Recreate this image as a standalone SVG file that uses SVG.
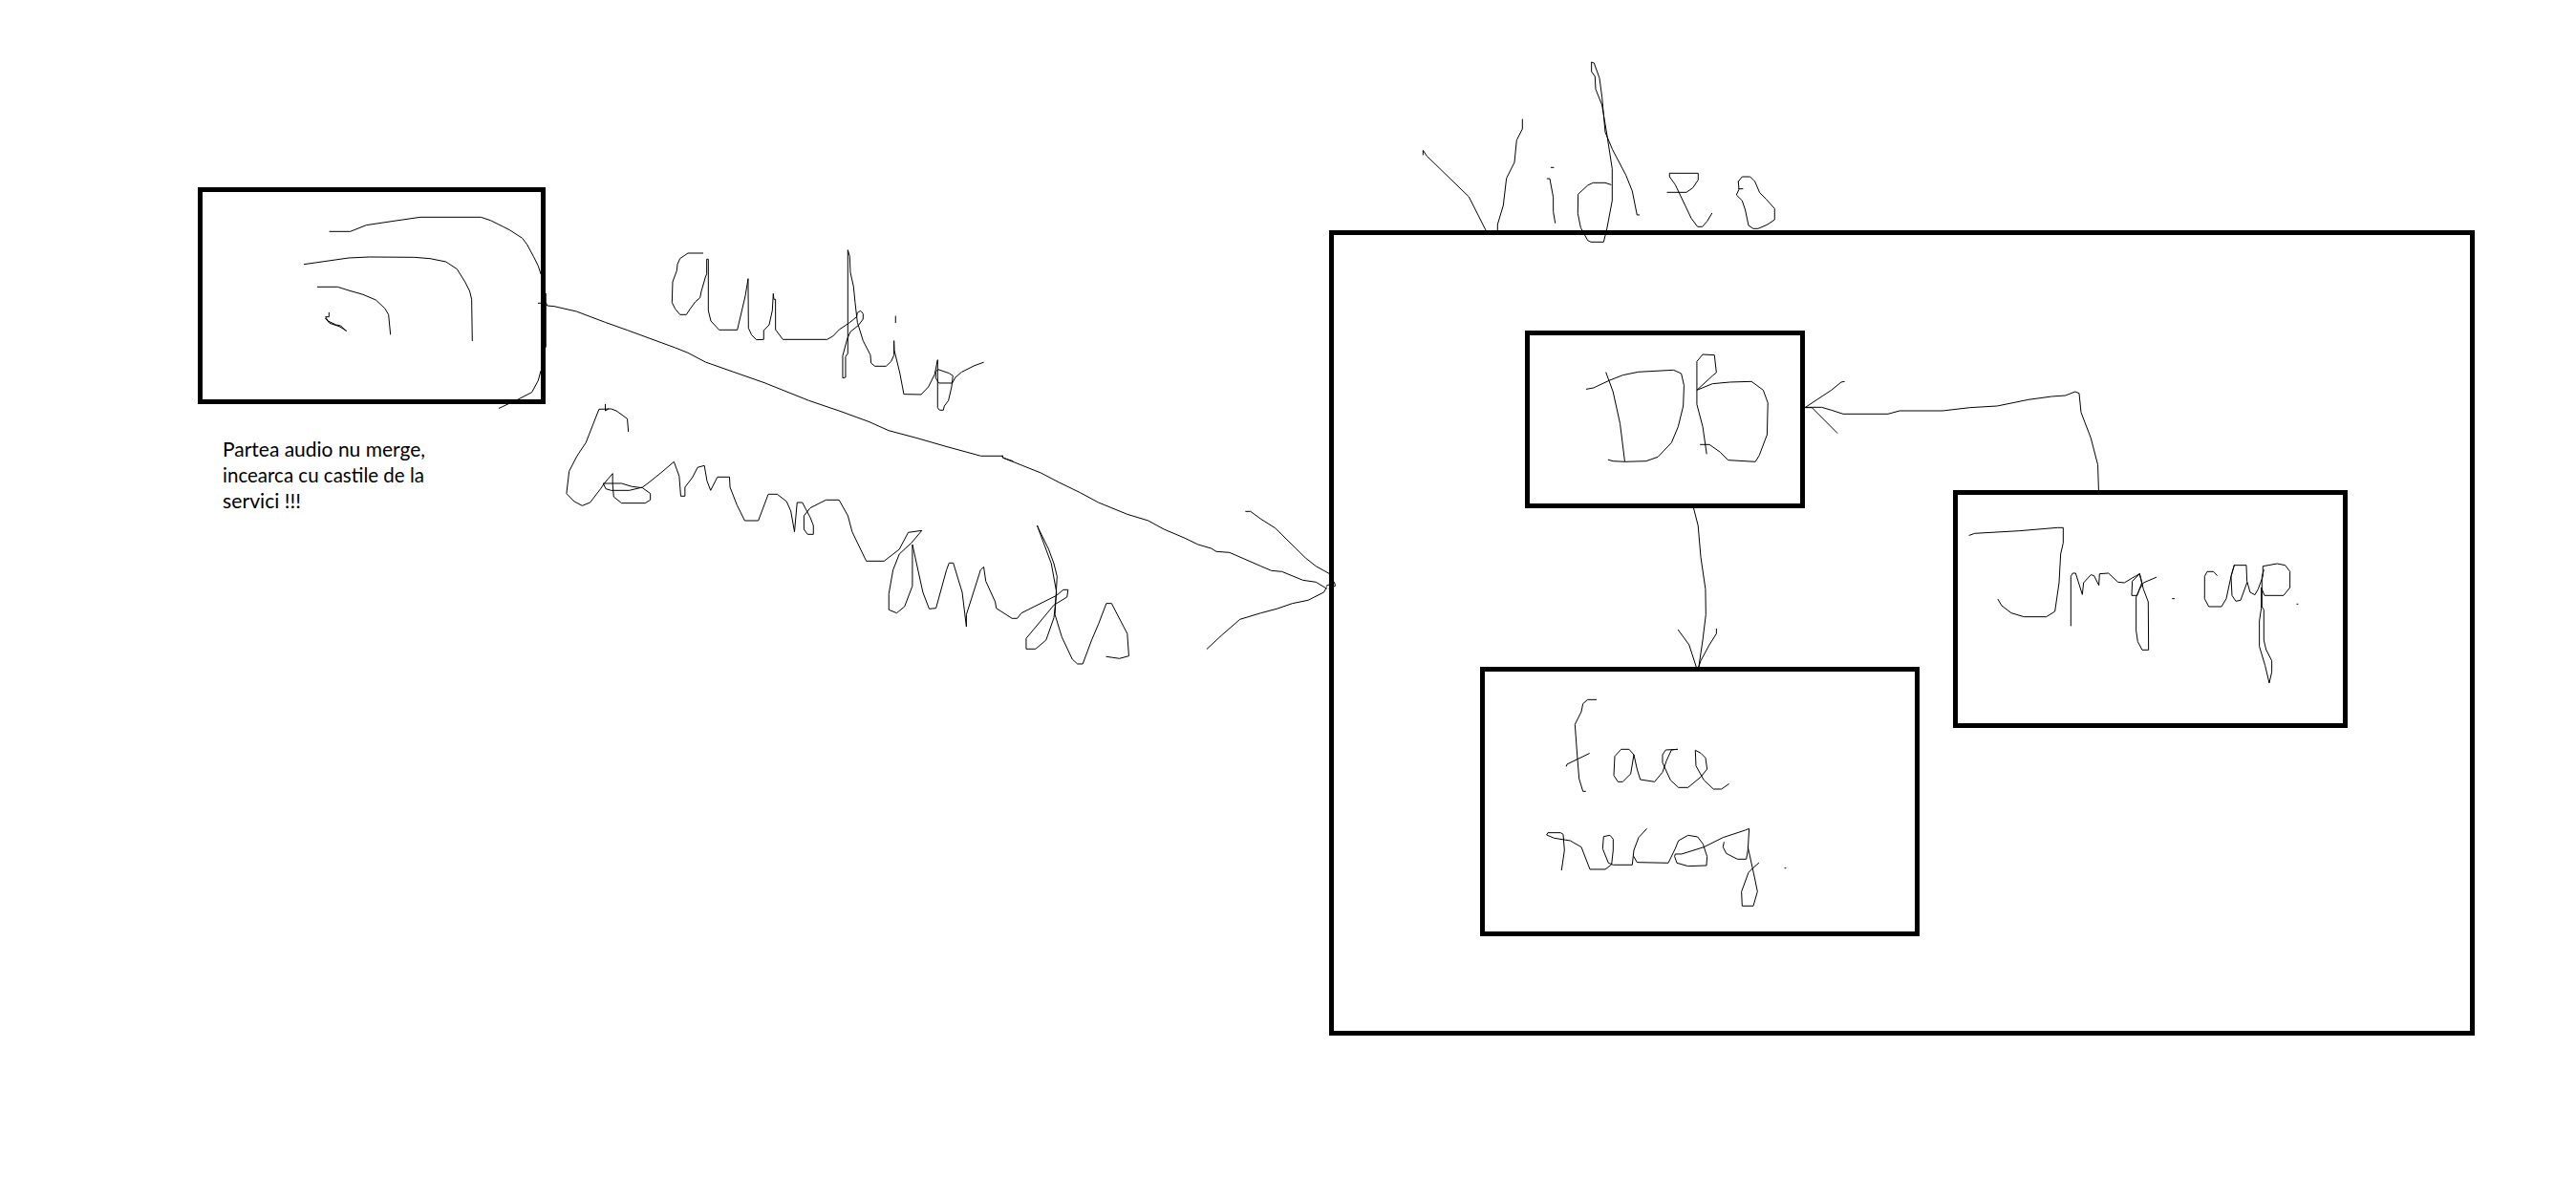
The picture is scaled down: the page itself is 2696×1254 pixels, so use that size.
<svg xmlns="http://www.w3.org/2000/svg" width="2696" height="1254" viewBox="0 0 2696 1254">
<style>
.box{fill:none;stroke:#000;stroke-width:5;shape-rendering:crispEdges}
.ink{fill:none;stroke:#000;stroke-width:1;stroke-linejoin:round;stroke-linecap:round;vector-effect:non-scaling-stroke}
.ink path{fill:none;stroke:#000;stroke-width:1;vector-effect:non-scaling-stroke}
.note{font-family:"Lato","Open Sans",sans-serif;font-size:21px;fill:#000}
</style>
<rect width="2696" height="1254" fill="#fff"/>
<g id="node-audio-source">
<rect class="box" x="209.5" y="198.5" width="359" height="222"/>
<g class="ink" transform="translate(180 170) scale(0.3333)">
<path d="M495 217L560 217L610 197L690 185L780 172L970 172L1000 182L1040 202L1060 212L1100 238L1115 258L1135 295L1150 325L1158 350"/>
<path d="M1158 655L1150 685L1130 722L1085 745L1027 772"/>
<path d="M1174 412L1174 580"/>
<path d="M415 320L555 300L620 297L760 298L810 302L860 312L895 335L920 375L935 405L941 430L943 560"/>
<path d="M457 391L520 391L555 402L600 415L640 432L668 458L680 478L686 540"/>
<path d="M493 472L493 485L482 485L490 498L515 510L530 513L547 530"/>
<path d="M482 490L495 505L525 515L547 528"/>
</g>
</g>
<g id="label-audio" class="ink" transform="translate(560 230) scale(0.3333)">
<path d="M527 105L480 105L455 122L447 140L445 160L432 195L430 260L440 280L455 298L475 298L487 280L503 258L518 245L522 225L535 180L539 170L539 124L544 124L544 285L552 318L578 346L635 346L660 240L669 185L670 340L680 362L695 377L718 376L718 348L735 330L745 285L748 232L750 250L755 250L755 345L778 376L917 376L935 366L955 345L985 325L1010 305L1012 292L1022 286L1030 295L1030 312L1015 332L990 352L980 375L966 427L966 497L975 495L975 430L982 420L982 95L988 115L990 165L1000 210L1005 260L1012 322L1030 380L1053 425L1055 450L1067 460L1102 460L1118 445L1127 425L1127 380L1128 410L1145 480L1158 548L1212 549L1235 525L1255 485L1264 440L1264 590L1270 598L1282 598L1285 585L1298 568L1308 525L1312 490L1300 482L1265 470L1258 478L1258 497L1268 513L1310 513L1320 495L1340 478L1380 458L1408 448"/>
<path d="M1132 303V323"/>
</g>
<g id="label-commands" class="ink" transform="translate(560 400) scale(0.5485 0.3333)">
<path d="M134 70L134 90L140 84"/>
<path d="M178 155L176 115L155 90L145 84L122 85L97 190L80 232L65 280L60 350L75 375L90 388L105 378L125 335L132 318L148 287L148 318L150 360L165 380L210 380L220 370L220 350L205 332L185 328L165 318L130 318L135 335L145 340L180 340L205 330L215 318L240 285L265 250L275 295L278 358L286 358L286 330L300 300L310 268L323 262L328 310L335 340L348 298L371 298L372 330L385 385L400 435L426 435L445 352L462 352L480 375L488 405L495 470L500 378L510 378L525 425L531 450L531 478L520 478L513 462L513 420L525 395L555 370L580 370L597 420L605 470L632 562L666 562L695 525L712 472L738 466L718 505L695 540L683 590L675 665L675 715L690 725L705 705L720 640L720 510L740 660L752 712L765 710L785 590L790 568L798 568L815 660L823 768L823 730L850 590L856 580L860 625L878 690L880 710L910 742L920 742L928 725L995 670L1008 652L1017 652L1015 675L990 700L937 805L937 838L955 838L975 810L990 740L995 660L985 570L958 450L960 458L980 525L990 570L996 610L992 730L1005 800L1025 870L1035 885L1045 885L1062 810L1075 760L1090 695L1100 695L1130 790L1133 860L1115 868L1090 862"/>
</g>
<g id="label-video" class="ink" transform="translate(1460 50) scale(0.3333)">
<path d="M88 336L88 322L100 340L232 468L285 573"/>
<path d="M322 573L322 555L340 495L350 410L375 360L382 290L400 255L400 225"/>
<path d="M490 376H498"/>
<path d="M478 411L486 411L497 470L497 515L503 550"/>
<path d="M678 430L660 424L622 424L605 432L575 460L574 520L583 565L605 605L615 610L655 610L665 570L682 480L682 380L665 270L650 180L630 130L628 90L617 75L617 45L625 48L642 95L650 155L660 265L683 320L725 400L745 450L760 525L767 525"/>
<path d="M855 454L915 454L935 440L952 415L952 394L862 394L862 405L880 430L930 535L950 562L965 562L980 545L995 520"/>
<path d="M1080 443L1092 443"/>
<path d="M1078 420L1090 405L1115 405L1130 420L1145 455L1165 475L1192 505L1192 540L1170 555L1140 568L1125 568L1110 558L1100 510L1090 480L1072 462L1080 445L1078 420"/>
</g>
<g id="node-video-system">
<rect class="box" x="1393.5" y="243.5" width="1194" height="838"/>
</g>
<g id="node-db">
<rect class="box" x="1598.5" y="348" width="288" height="181"/>
<g class="ink" transform="translate(1580 330) scale(0.4082 0.3333)">
<path d="M197 232L215 228L255 205L290 188L330 178L420 172L440 183L447 220L445 285L432 350L415 400L380 445L350 458L295 460L265 458L253 454"/>
<path d="M247 180L265 240L283 340L295 458"/>
<path d="M489 406L512 406L540 430L560 455L630 460L640 440L660 375L662 275L650 235L620 208L565 210L520 215L480 235L520 190L530 180L525 125L495 123L480 145L480 280L495 350L505 435"/>
</g>
</g>
<g id="node-face-recog">
<rect class="box" x="1551.5" y="700.5" width="455" height="277"/>
<g class="ink" transform="translate(1540 690) scale(0.3333)">
<path d="M392 127L365 127L350 140L345 165L325 205L332 300L338 375L350 415L358 415"/>
<path d="M298 336L300 330L370 296"/>
<path d="M510 300L495 283L470 283L450 305L447 365L460 385L475 385L500 360L510 300L520 345L530 378L575 385L600 355L612 320L628 285L648 283L610 285L600 300L600 325L625 380L650 403L680 403L720 370L740 345L735 310L720 295L703 286L705 335L730 380L760 408L785 408L808 392"/>
<path d="M283 662L292 600L288 550L280 545L240 545L236 552L260 562L310 570L345 590L372 660L420 660L440 645L445 600L445 565L435 553L415 557L412 595L430 640L445 646L505 646L510 600L525 560L550 533"/>
<path d="M510 620L520 638L618 640L640 595L650 570L680 553L710 558L727 580L740 620L738 648L680 650L645 640L638 620L640 612L660 612L730 590L790 560L860 537L872 532L868 600L863 628L835 628L800 610L790 590L793 575"/>
<path d="M868 590L890 690L898 730L885 775L850 775L848 730L870 670L885 655L902 640"/>
<path d="M984 656h3"/>
</g>
</g>
<g id="node-img-cap">
<rect class="box" x="2046" y="515" width="408" height="244"/>
<g class="ink" transform="translate(2030 500) scale(0.3333)">
<path d="M93 181L110 175L250 167L370 157L388 157L388 205L380 240L375 330L362 420L335 437L265 437L225 425L195 402L183 382"/>
<path d="M412 465L412 310L418 300L427 300L448 367L452 330L475 305L485 308L500 338L502 302L530 300L560 328L580 330L605 315L628 302L640 350L655 390L656 541L636 541L622 515L617 480L617 375L628 350L640 330L680 313"/>
<path d="M628 302L605 325L603 370L620 370L635 330L628 302"/>
<path d="M731 380L737 380"/>
<path d="M871 307L860 295L840 295L832 310L832 380L845 405L885 405L900 380L915 310L925 275L963 275L965 325L975 360L990 368L1000 350L1015 310L1015 278L1060 270L1085 275L1100 295L1100 345L1080 370L1020 370L1010 345L1010 410L1004 450L1004 530L1022 590L1035 645L1043 610L1043 575L1025 540L1018 510L1018 415L1012 405L1012 310L1018 290"/>
<path d="M925 275L915 310L918 370L930 388L945 385L965 330"/>
<path d="M1122 397h3"/>
</g>
</g>
<g id="connectors">
<g class="ink" transform="translate(560 230) scale(0.3333)">
<path d="M10 262L35 262L38 270L60 272L130 288L220 322L290 347L440 402L480 418L535 447L620 477L720 512L860 568L960 602L1050 635L1110 662L1200 686L1290 712L1400 742L1468 742L1470 748L1500 758"/>
</g>
<g class="ink" transform="translate(560 400) scale(0.5485 0.3333)">
<path d="M892 231L892 237L930 262L965 285L1000 315L1040 347L1075 378L1130 415L1170 435L1200 462L1240 490L1265 510L1290 522L1300 532L1325 535L1385 578L1405 592L1425 595L1465 622L1490 628L1510 648"/>
<path d="M1356 406L1365 406L1385 430L1412 458L1470 552L1490 578L1516 602"/>
<path d="M1282 838L1310 795L1345 745L1385 725L1415 712L1445 695L1475 685L1505 660L1510 645"/>
<path d="M1510 640L1525 628L1527 640L1515 648"/>
</g>
<g class="ink" transform="translate(1580 330) scale(0.4082 0.3333)">
<path d="M1510 548L1508 470L1490 385L1465 305L1460 245L1450 240L1425 252L1390 255L1330 265L1250 285L1180 290L1110 300L1000 300L970 310L855 310L825 298L800 289L760 289"/>
<path d="M858 208L850 210L825 235L757 290L775 290L840 370"/>
<path d="M471 603L483 660L490 760L502 860L503 940L495 1020L485 1103"/>
<path d="M432 988L460 1035L478 1103"/>
<path d="M530 985L530 1000L512 1035L490 1085L485 1103"/>
</g>
</g>
<g id="note">
<text class="note" x="233" y="478" textLength="212" lengthAdjust="spacingAndGlyphs">Partea audio nu merge,</text>
<text class="note" x="233" y="505" textLength="211" lengthAdjust="spacingAndGlyphs">incearca cu castile de la</text>
<text class="note" x="233" y="532" textLength="82" lengthAdjust="spacingAndGlyphs">servici !!!</text>
</g>
</svg>
